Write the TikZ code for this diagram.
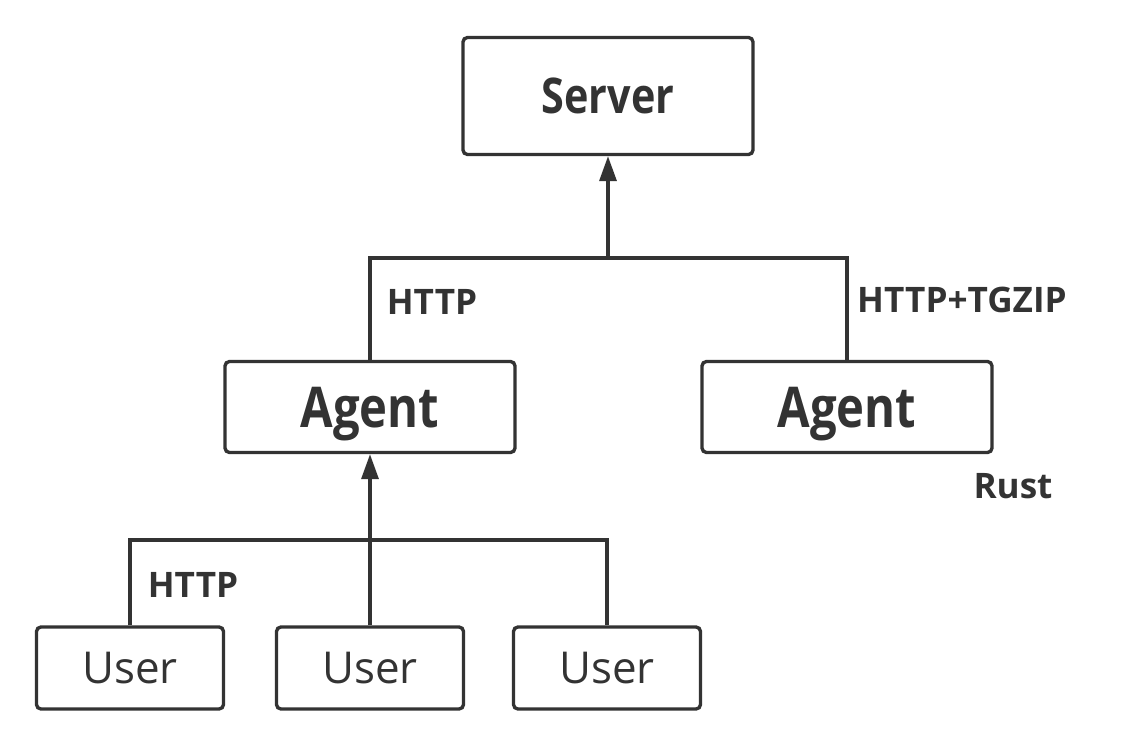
\documentclass[tikz,border=0pt]{standalone}
\usepackage{fontspec}
\setmainfont{Open Sans}
\newfontfamily\headfont[FakeStretch=0.84]{Open Sans}
\usetikzlibrary{positioning,arrows.meta}
\definecolor{ink}{HTML}{333333}
\tikzset{
  box/.style={draw=ink, line width=1.9pt, rounded corners=2.5pt, text=ink, inner sep=0pt},
  serverbox/.style={box, minimum width=5.8cm, minimum height=2.34cm, font=\headfont\fontsize{28}{30}\selectfont\bfseries},
  agentbox/.style={box, minimum width=5.8cm, minimum height=1.82cm, text depth=0pt, font=\headfont\fontsize{32}{34}\selectfont\bfseries},
  userbox/.style={box, minimum width=3.74cm, minimum height=1.64cm, font=\fontsize{25}{27}\selectfont},
  tag/.style={text=ink, inner sep=0pt, font=\fontsize{20}{22}\selectfont\bfseries},
  link/.style={draw=ink, line width=1.9pt},
  fwd/.style={link, -{Triangle[width=0.34cm, length=0.5cm]}},
}
\begin{document}
\begin{tikzpicture}[x=0.02cm, y=-0.02cm]
  \useasboundingbox (0,0) rectangle (1140,747);

  \node[serverbox] (server) at (608,96) {Server};
  \node[agentbox] (agentL) at (370,407) {Agent};
  \node[agentbox] (agentR) at (847,407) {Agent};
  \node[userbox] (user1) at (130,668) {User};
  \node[userbox] (user2) at (370,668) {User};
  \node[userbox] (user3) at (607,668) {User};

  \coordinate (busTop) at (608,258);
  \coordinate (busLow) at (370,540);

  \draw[link] (agentL.north) |- (busTop) -| (agentR.north);
  \draw[fwd] (busTop) -- (server.south);
  \draw[link] (user1.north) |- (busLow) -| (user3.north);
  \draw[fwd] (user2.north) -- (agentL.south);

  \node[tag] (httpTop) at (432,302) {HTTP};
  \node[tag] (tgzip) at (962,300) {HTTP+TGZIP};
  \node[tag] (rust) at (1013,486) {Rust};
  \node[tag] (httpLow) at (193,585) {HTTP};
\end{tikzpicture}
\end{document}
